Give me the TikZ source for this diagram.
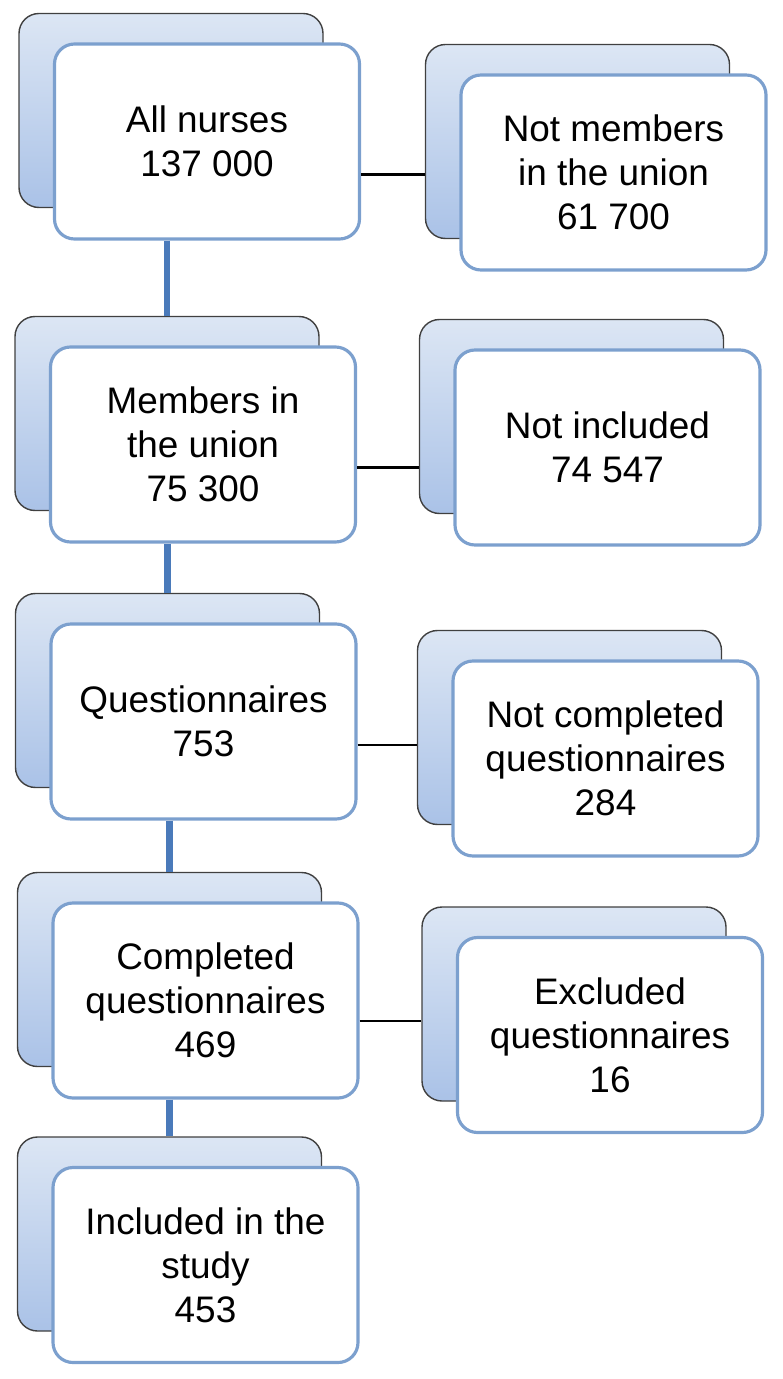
\documentclass[tikz,border=0pt]{standalone}
\usepackage{fontspec}
\setmainfont{Liberation Sans}
\usetikzlibrary{shapes}
\definecolor{boxline}{RGB}{124,160,206}
\definecolor{shadowline}{RGB}{64,64,64}
\definecolor{shadowtop}{RGB}{220,230,244}
\definecolor{shadowbottom}{RGB}{170,194,231}
\definecolor{trunk}{RGB}{74,122,186}

\begin{document}
\begin{tikzpicture}[
      shadowbox/.style={draw=shadowline, line width=0.8pt, rounded corners=0.4cm,
          top color=shadowtop, middle color=shadowtop!85!shadowbottom, bottom color=shadowbottom,
          minimum width=6.08cm, minimum height=3.88cm},
      box/.style={draw=boxline, line width=1.8pt, fill=white, rounded corners=0.4cm,
          minimum width=6.1cm, minimum height=3.9cm, align=center,
          xshift=0.72cm, yshift=-0.62cm, font=\fontsize{21}{25}\selectfont},
      trunkline/.style={draw=trunk, line width=3.8pt},
      sideline/.style={draw=black, line width=1.3pt}]
      \useasboundingbox (0,0) rectangle (15.64,-27.58);

      % main column
      \node[shadowbox] (nursesbg) at (3.42,-2.21) {};
      \node[box] (nurses) at (nursesbg) {All nurses\\137 000};
      \node[shadowbox] (membersbg) at (3.34,-8.27) {};
      \node[box] (members) at (membersbg) {Members in\\the union\\75 300};
      \node[shadowbox] (questbg) at (3.35,-13.81) {};
      \node[box] (quest) at (questbg) {Questionnaires\\753};
      \node[shadowbox] (completedbg) at (3.39,-19.39) {};
      \node[box] (completed) at (completedbg) {Completed\\questionnaires\\469};
      \node[shadowbox] (includedbg) at (3.39,-24.68) {};
      \node[box] (included) at (includedbg) {Included in the\\study\\453};

      % side column
      \node[shadowbox] (notmembersbg) at (11.55,-2.83) {};
      \node[box] (notmembers) at (notmembersbg) {Not members\\in the union\\61 700};
      \node[shadowbox] (notinclbg) at (11.43,-8.33) {};
      \node[box] (notincl) at (notinclbg) {Not included\\74 547};
      \node[shadowbox] (notcomplbg) at (11.39,-14.55) {};
      \node[box] (notcompl) at (notcomplbg) {Not completed\\questionnaires\\284};
      \node[shadowbox] (excludedbg) at (11.48,-20.08) {};
      \node[box] (excluded) at (excludedbg) {Excluded\\questionnaires\\16};

      % trunk
      \draw[trunkline] (nurses.south -| membersbg.north) -- (membersbg.north);
      \draw[trunkline] (members.south -| questbg.north) -- (questbg.north);
      \draw[trunkline] (quest.south -| completedbg.north) -- (completedbg.north);
      \draw[trunkline] (completed.south -| includedbg.north) -- (includedbg.north);

      % branches
      \coordinate (br1) at ([yshift=-0.66cm]nurses.east);
      \coordinate (br2) at ([yshift=-0.46cm]members.east);
      \coordinate (br3) at ([yshift=-0.47cm]quest.east);
      \coordinate (br4) at ([yshift=-0.41cm]completed.east);
      \draw[sideline] (br1) -- (br1 -| notmembersbg.west);
      \draw[sideline] (br2) -- (br2 -| notinclbg.west);
      \draw[sideline] (br3) -- (br3 -| notcomplbg.west);
      \draw[sideline] (br4) -- (br4 -| excludedbg.west);
\end{tikzpicture}
\end{document}
